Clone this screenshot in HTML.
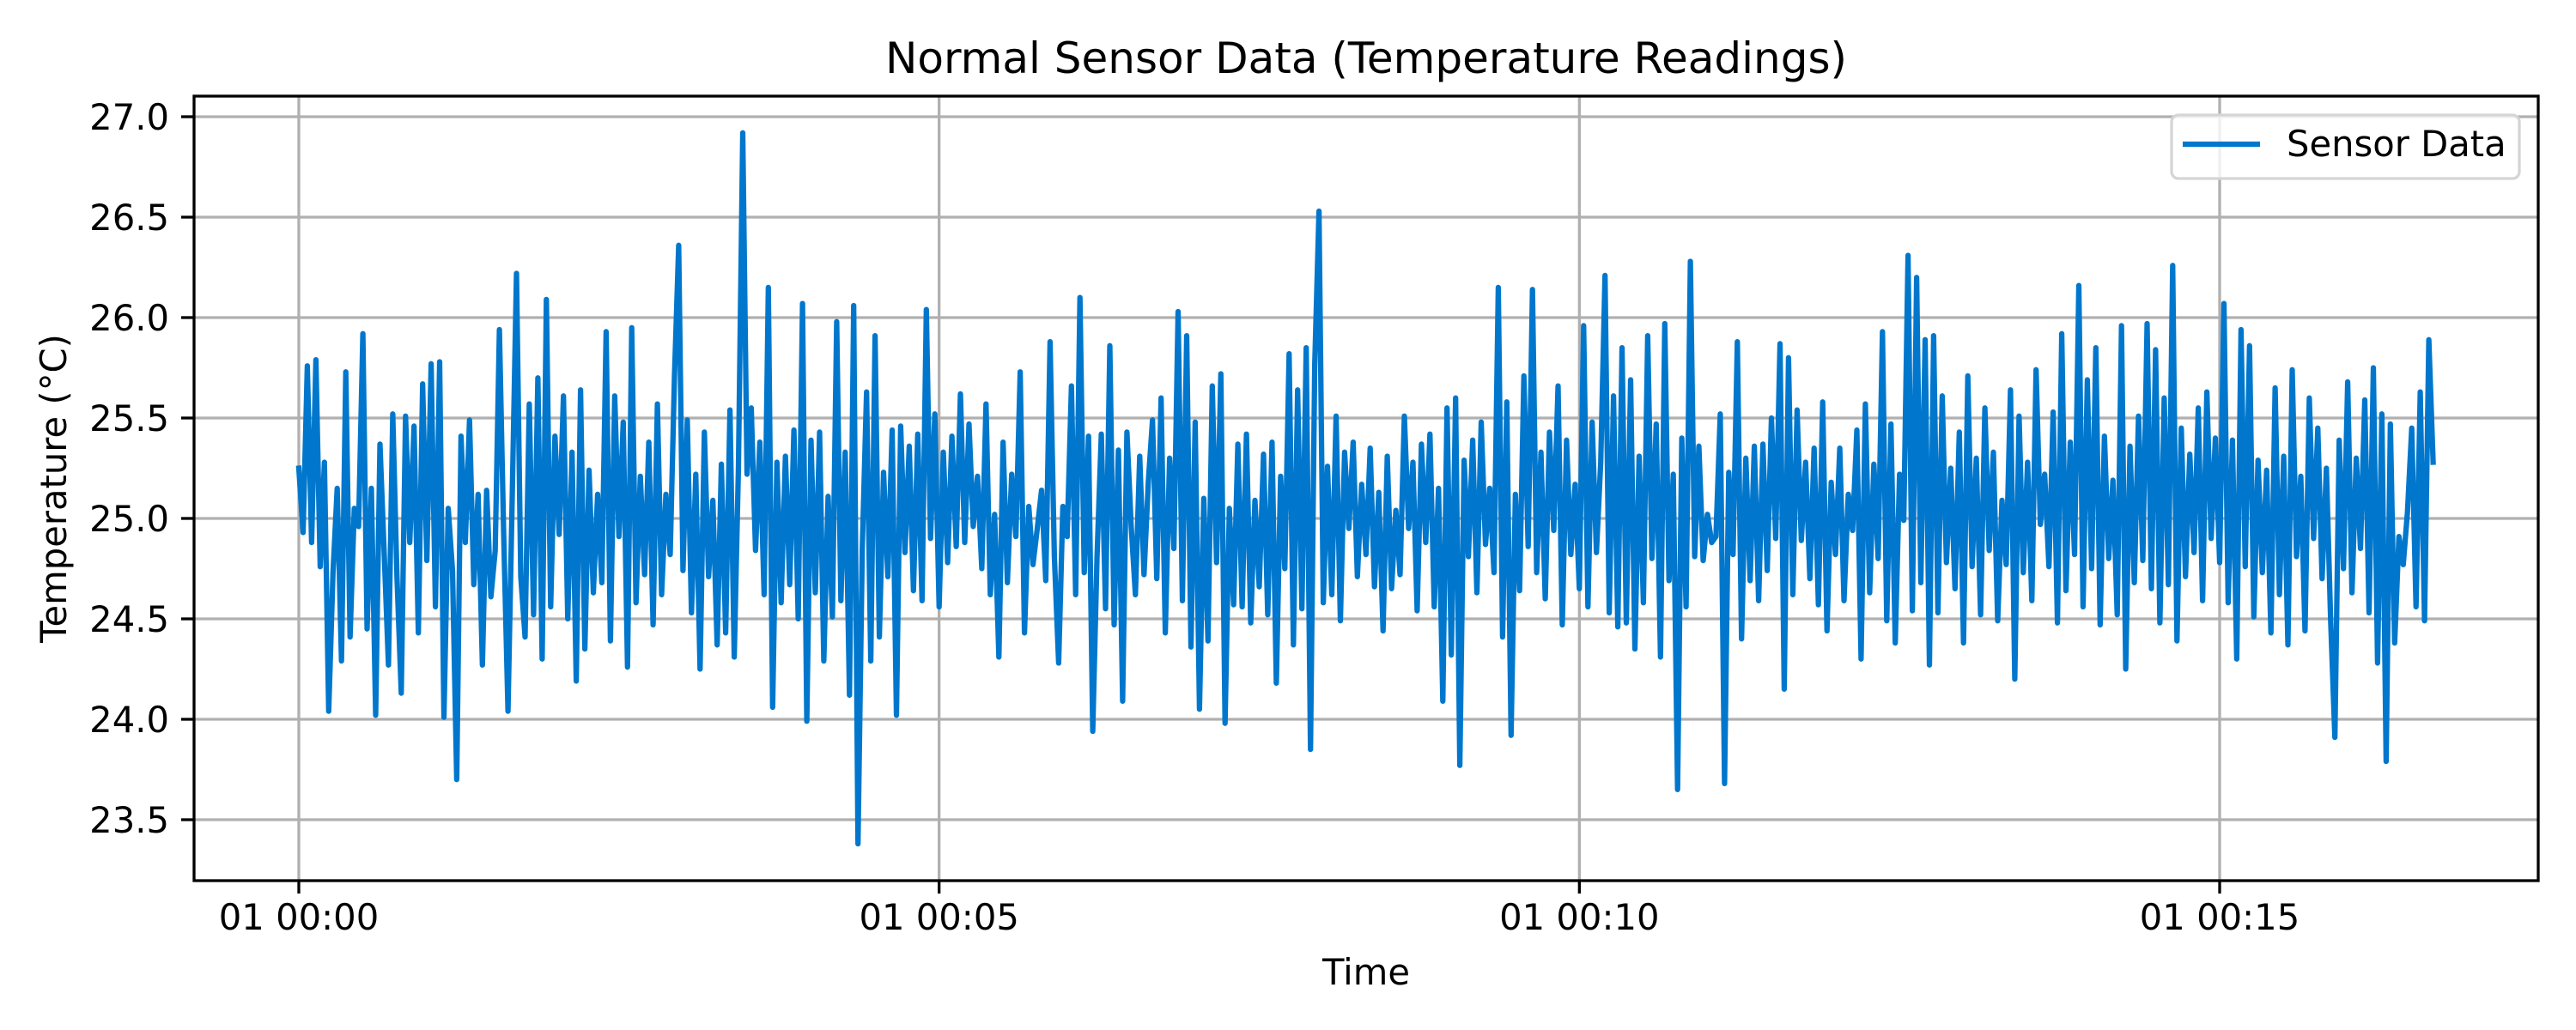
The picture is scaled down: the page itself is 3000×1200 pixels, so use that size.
<!DOCTYPE html>
<html><head><meta charset="utf-8">
<style>
html,body{margin:0;padding:0;background:#fff;}
svg{display:block;font-family:"DejaVu Sans","Liberation Sans",sans-serif;}
</style></head>
<body>
<svg id="chart" width="3000" height="1200" viewBox="0 0 3000 1200" xmlns="http://www.w3.org/2000/svg">
<rect width="3000" height="1200" fill="#fff"/>
<g id="grid"></g>
<g id="series"></g>
<rect x="226" y="112" width="2730" height="914" fill="none" stroke="#000" stroke-width="3.3"/>
<g id="ticks"></g>
<text x="1591" y="85" font-size="50" text-anchor="middle">Normal Sensor Data (Temperature Readings)</text>
<text x="1591" y="1147" font-size="41.7" text-anchor="middle">Time</text>
<text transform="translate(77,569) rotate(-90)" font-size="41.7" text-anchor="middle">Temperature (°C)</text>
<g>
<rect x="2529" y="134" width="405" height="74" rx="8" fill="#fff" fill-opacity="0.8" stroke="#d5d5d5" stroke-width="3.3"/>
<line x1="2542" y1="168" x2="2632" y2="168" stroke="#0077cc" stroke-width="6.25"/>
<text x="2663" y="182" font-size="41.7">Sensor Data</text>
</g>
</svg>
<script>
const timeStepSeconds = 2;
const yTicks = [23.5,24.0,24.5,25.0,25.5,26.0,26.5,27.0];
const xTickMinutes = [0,5,10,15];
const xTickLabels = ["01 00:00","01 00:05","01 00:10","01 00:15"];
const temps = [
25.25,24.93,25.76,24.88,25.79,24.76,25.28,24.04,24.73,25.15,24.29,25.73,24.41,25.05,24.96,25.92,24.45,25.15,24.02,25.37,24.83,24.27,25.52,24.71,24.13,
25.51,24.88,25.46,24.43,25.67,24.79,25.77,24.56,25.78,24.01,25.05,24.74,23.70,25.41,24.88,25.49,24.67,25.12,24.27,25.14,24.61,24.84,25.94,24.92,24.04,
25.12,26.22,24.71,24.41,25.57,24.52,25.70,24.30,26.09,24.56,25.41,24.92,25.61,24.50,25.33,24.19,25.64,24.35,25.24,24.63,25.12,24.68,25.93,24.39,25.61,
24.91,25.48,24.26,25.95,24.58,25.21,24.72,25.38,24.47,25.57,24.62,25.12,24.82,25.71,26.36,24.74,25.49,24.53,25.22,24.25,25.43,24.71,25.09,24.37,25.27,
24.43,25.54,24.31,25.26,26.92,25.22,25.55,24.84,25.38,24.62,26.15,24.06,25.28,24.58,25.31,24.67,25.44,24.50,26.07,23.99,25.39,24.63,25.43,24.29,25.11,
24.51,25.98,24.59,25.33,24.12,26.06,23.38,24.85,25.63,24.29,25.91,24.41,25.23,24.71,25.44,24.02,25.46,24.83,25.36,24.64,25.42,24.59,26.04,24.90,25.52,
24.56,25.33,24.78,25.41,24.86,25.62,24.88,25.47,24.96,25.21,24.75,25.57,24.62,25.02,24.31,25.38,24.68,25.22,24.91,25.73,24.43,25.06,24.77,24.95,25.14,
24.69,25.88,24.81,24.28,25.06,24.91,25.66,24.62,26.10,24.73,25.41,23.94,24.81,25.42,24.55,25.86,24.47,25.34,24.09,25.43,24.96,24.62,25.31,24.72,25.18,
25.49,24.70,25.60,24.43,25.30,24.85,26.03,24.59,25.91,24.36,25.48,24.05,25.10,24.39,25.66,24.78,25.72,23.98,25.05,24.57,25.37,24.56,25.42,24.48,25.09,
24.66,25.32,24.52,25.38,24.18,25.21,24.75,25.82,24.37,25.64,24.55,25.85,23.85,25.76,26.53,24.58,25.26,24.62,25.51,24.49,25.33,24.95,25.38,24.71,25.17,
24.82,25.35,24.66,25.13,24.44,25.31,24.65,25.04,24.72,25.51,24.95,25.28,24.54,25.37,24.88,25.42,24.56,25.15,24.09,25.55,24.32,25.60,23.77,25.29,24.81,
25.39,24.63,25.48,24.87,25.15,24.73,26.15,24.41,25.58,23.92,25.12,24.64,25.71,24.86,26.14,24.73,25.33,24.60,25.43,24.94,25.66,24.47,25.39,24.82,25.17,
24.65,25.96,24.56,25.48,24.83,25.28,26.21,24.53,25.61,24.46,25.85,24.48,25.69,24.35,25.31,24.58,25.91,24.80,25.47,24.31,25.97,24.69,25.22,23.65,25.40,
24.56,26.28,24.81,25.36,24.79,25.02,24.88,24.91,25.52,23.68,25.23,24.82,25.88,24.40,25.30,24.69,25.36,24.59,25.37,24.74,25.50,24.90,25.87,24.15,25.80,
24.62,25.54,24.89,25.28,24.70,25.35,24.57,25.58,24.44,25.18,24.82,25.35,24.59,25.12,24.94,25.44,24.30,25.57,24.63,25.27,24.80,25.93,24.49,25.47,24.38,
25.22,24.99,26.31,24.54,26.20,24.68,25.89,24.27,25.91,24.53,25.61,24.78,25.25,24.65,25.43,24.38,25.71,24.76,25.30,24.52,25.55,24.84,25.33,24.49,25.09,
24.77,25.64,24.20,25.51,24.73,25.28,24.59,25.74,24.97,25.22,24.76,25.53,24.48,25.92,24.64,25.38,24.82,26.16,24.56,25.69,24.75,25.85,24.47,25.41,24.80,
25.19,24.52,25.96,24.25,25.36,24.68,25.51,24.79,25.97,24.65,25.84,24.48,25.60,24.67,26.26,24.39,25.45,24.71,25.32,24.83,25.55,24.59,25.63,24.90,25.40,
24.78,26.07,24.58,25.39,24.30,25.94,24.76,25.86,24.51,25.29,24.73,25.24,24.43,25.65,24.62,25.31,24.37,25.74,24.81,25.21,24.44,25.60,24.90,25.45,24.70,
25.25,24.50,23.91,25.39,24.75,25.68,24.63,25.30,24.85,25.59,24.53,25.75,24.28,25.52,23.79,25.47,24.38,24.91,24.77,25.03,25.45,24.56,25.63,24.49,25.89,
25.28
];
const NS="http://www.w3.org/2000/svg";
const X0=348, PX_PER_MIN=(2585-348)/15;
const xScale = s => X0 + (s/60)*PX_PER_MIN;
const Y27=136, PX_PER_DEG=(955-136)/3.5;
const yScale = v => Y27 + (27-v)*PX_PER_DEG;
const grid=document.getElementById('grid'), ticks=document.getElementById('ticks'), series=document.getElementById('series');
function mk(tag,attrs,parent){const e=document.createElementNS(NS,tag);for(const k in attrs)e.setAttribute(k,attrs[k]);parent.appendChild(e);return e;}
yTicks.forEach(v=>{
  const y=yScale(v);
  const g=mk('line',{x1:226,x2:2956,y1:y,y2:y,stroke:'#b0b0b0','stroke-width':3.3},grid);
  
  
  const t=mk('line',{x1:211,x2:226,y1:y,y2:y,stroke:'#000','stroke-width':3.3},ticks);
  
  
  const l=mk('text',{x:197,y:y+15,'font-size':41.7,'text-anchor':'end'},ticks);
  l.textContent=v.toFixed(1);
  
  
});
xTickMinutes.forEach((m,i)=>{
  const x=xScale(m*60);
  const g=mk('line',{x1:x,x2:x,y1:112,y2:1026,stroke:'#b0b0b0','stroke-width':3.3},grid);
  
  
  const t=mk('line',{x1:x,x2:x,y1:1026,y2:1041,stroke:'#000','stroke-width':3.3},ticks);
  
  
  const l=mk('text',{x:x,y:1083,'font-size':41.7,'text-anchor':'middle'},ticks);
  l.textContent=xTickLabels[i];
  
  
});
const pts=temps.map((v,i)=>xScale(i*timeStepSeconds).toFixed(1)+','+yScale(v).toFixed(1)).join(' ');
const line=mk('polyline',{points:pts,fill:'none',stroke:'#0077cc','stroke-width':6.25,'stroke-linejoin':'round','stroke-linecap':'square'},series);


</script>
</body></html>
